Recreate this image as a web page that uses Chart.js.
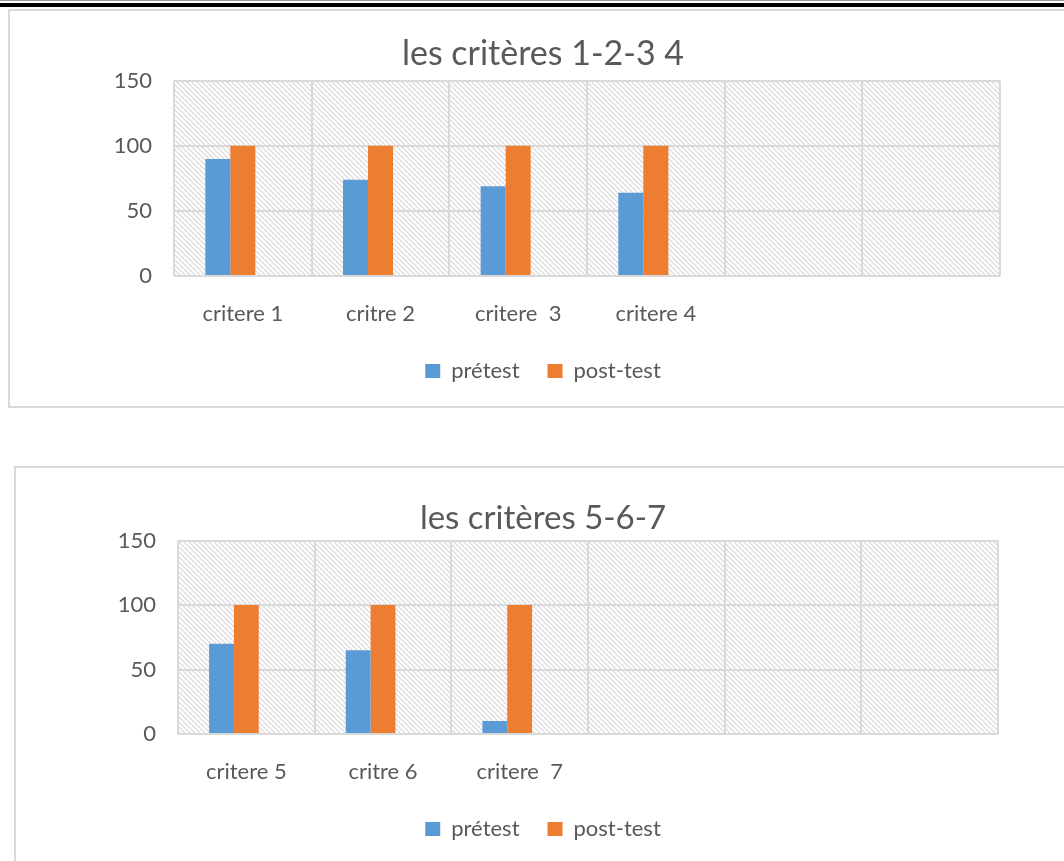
<!DOCTYPE html>
<html>
<head>
<meta charset="utf-8">
<script src="https://cdn.jsdelivr.net/npm/chart.js@4"></script>
<style>
body { margin:0; background:#fff; width:1064px; height:861px; overflow:hidden; position:relative; }
#topgray { position:absolute; left:0; top:0; width:1064px; height:1px; background:#9a9a9a; }
#topline { position:absolute; left:0; top:3px; width:1064px; height:4px; background:#000; }
.frame { position:absolute; border:2px solid #d9d9d9; box-sizing:border-box; }
#frame1 { left:8px; top:9px; width:1070px; height:399px; }
#frame2 { left:14px; top:466px; width:1070px; height:420px; }
canvas { position:absolute; left:0; }
#c1 { top:0; }
#c2 { top:458px; }
</style>
</head>
<body>
<div id="topgray"></div>
<div id="topline"></div>
<div class="frame" id="frame1"></div>
<div class="frame" id="frame2"></div>
<canvas id="c1" width="1064" height="420"></canvas>
<canvas id="c2" width="1064" height="420"></canvas>
<script>
// chart 1
const title1 = 'les critères 1-2-3 4';
const labels1 = ['critere 1', 'critre 2', 'critere  3', 'critere 4', '', ''];
const pretest1 = [90, 74, 69, 64, null, null];
const posttest1 = [100, 100, 100, 100, null, null];

// chart 2
const title2 = 'les critères 5-6-7';
const labels2 = ['critere 5', 'critre 6', 'critere  7', '', '', ''];
const pretest2 = [70, 65, 10, null, null, null];
const posttest2 = [100, 100, 100, null, null, null];

const yTicks = [0, 50, 100, 150];
const fontFamily = 'Lato';
const textColor = '#595959';
const gridColor = '#d9d9d9';

const makeHatch = function(ctx){
    let c = document.createElement('canvas');
    c.width = 5; c.height = 5;
    let g = c.getContext('2d');
    g.fillStyle = '#ffffff';
    g.fillRect(0, 0, 5, 5);
    g.strokeStyle = '#dcdcdc';
    g.lineWidth = 1.3;
    g.beginPath();
    g.moveTo(-1, -1); g.lineTo(6, 6);
    g.moveTo(-1, 4); g.lineTo(1, 6);
    g.moveTo(4, -1); g.lineTo(6, 1);
    g.stroke();
    return ctx.createPattern(c, 'repeat');
};

const hatchBackground = {
    id: 'hatchBackground',
    beforeDraw: function(chart){
        const a = chart.chartArea;
        const ctx = chart.ctx;
        ctx.save();
        ctx.fillStyle = makeHatch(ctx);
        ctx.fillRect(a.left, a.top, a.right - a.left, a.bottom - a.top);
        ctx.restore();
    }
};

const makeChart = function(id, title, labels, pretest, posttest, pad){
    const data = {
        labels: labels,
        datasets: [
            { label: 'prétest', data: pretest, backgroundColor: '#5b9bd5' },
            { label: 'post-test', data: posttest, backgroundColor: '#ed7d31' },
            { label: '', data: labels.map(() => null), backgroundColor: 'rgba(0,0,0,0)' }
        ]
    };
    const config = {
        type: 'bar',
        data,
        plugins: [hatchBackground],
        options: {
            responsive: false,
            animation: false,
            categoryPercentage: 0.545,
            barPercentage: 1,
            layout: { padding: { left: pad.left, right: pad.right, top: 0, bottom: 28 } },
            scales: {
                x: {
                    grid: { color: gridColor, lineWidth: 2, drawTicks: false },
                    border: { display: false },
                    ticks: { color: textColor, font: { family: fontFamily, size: 22 }, padding: 25, maxRotation: 0, autoSkip: false },
                    afterFit: function(scale){ scale.height = 56; }
                },
                y: {
                    min: 0,
                    max: 150,
                    grid: { color: gridColor, lineWidth: 2, drawTicks: false },
                    border: { display: false },
                    ticks: { color: textColor, font: { family: fontFamily, size: 22 }, padding: 22, stepSize: 50 },
                    afterBuildTicks: function(scale){ scale.ticks = yTicks.map(v => ({ value: v })); },
                    afterFit: function(scale){ scale.width = pad.yWidth; }
                }
            },
            plugins: {
                title: {
                    display: true,
                    text: title,
                    color: textColor,
                    font: { family: fontFamily, size: pad.titleSize, weight: 'normal' },
                    padding: { top: pad.titleTop, bottom: pad.titleBottom }
                },
                legend: {
                    position: 'bottom',
                    labels: {
                        color: textColor,
                        font: { family: fontFamily, size: 22 },
                        boxWidth: 15,
                        boxHeight: 14,
                        padding: 28,
                        filter: function(item){ return item.text !== ''; }
                    }
                },
                tooltip: { enabled: false }
            }
        }
    };
    return new Chart(document.getElementById(id), config);
};

makeChart('c1', title1, labels1, pretest1, posttest1,
    { left: 86, right: 64, yWidth: 88, titleSize: 34, titleTop: 34, titleBottom: 6 });
makeChart('c2', title2, labels2, pretest2, posttest2,
    { left: 88, right: 66, yWidth: 90, titleSize: 33, titleTop: 41, titleBottom: 2 });
</script>
</body>
</html>
